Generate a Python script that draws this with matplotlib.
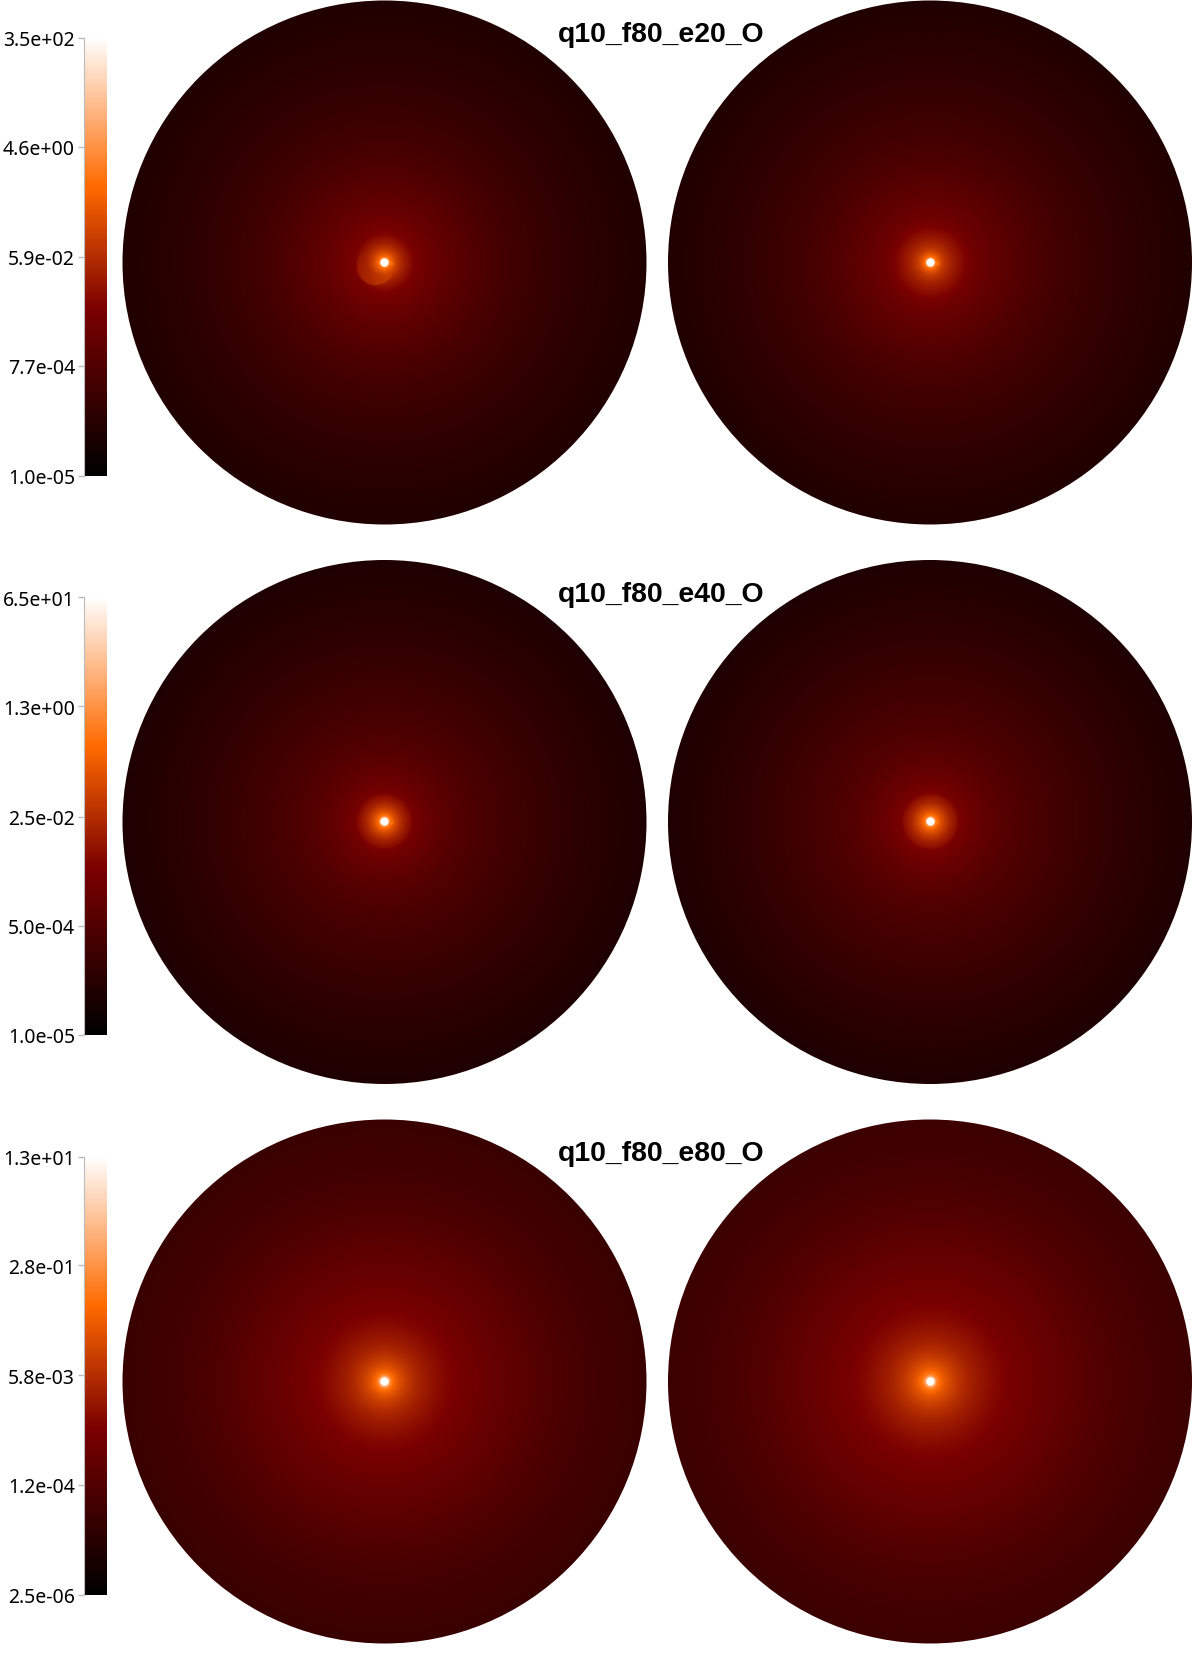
import numpy as np
import matplotlib
matplotlib.use('Agg')
import matplotlib.pyplot as plt
from matplotlib.colors import LinearSegmentedColormap, LogNorm
from matplotlib.patches import Circle

W, H = 1200, 1658
R = 262
PAD = 1.02

titles = ['q10_f80_e20_O', 'q10_f80_e40_O', 'q10_f80_e80_O']
tick_values = [[3.5e+02, 4.6e+00, 5.9e-02, 7.7e-04, 1.0e-05],
               [6.5e+01, 1.3e+00, 2.5e-02, 5.0e-04, 1.0e-05],
               [1.3e+01, 2.8e-01, 5.8e-03, 1.2e-04, 2.5e-06]]
tick_labels = [['3.5e+02', '4.6e+00', '5.9e-02', '7.7e-04', '1.0e-05'],
               ['6.5e+01', '1.3e+00', '2.5e-02', '5.0e-04', '1.0e-05'],
               ['1.3e+01', '2.8e-01', '5.8e-03', '1.2e-04', '2.5e-06']]

# radius in units of the disc radius, density
radius = [0.0, 0.014, 0.018, 0.02, 0.03, 0.05, 0.10, 0.11, 0.18, 0.31, 0.5, 0.76, 1.0]
density = [[3.5e+02, 3.5e+02, 5.0e+00, 1.4e+00, 4.6e-01, 1.0e-01, 1.2e-02, 8.5e-03, 3.2e-03, 1.1e-03, 3.2e-04, 1.1e-04, 6.0e-05],
           [6.5e+01, 6.5e+01, 1.5e+00, 7.0e-01, 2.0e-01, 5.0e-02, 6.0e-03, 3.5e-03, 1.4e-03, 5.2e-04, 2.2e-04, 8.5e-05, 4.6e-05],
           [1.3e+01, 1.3e+01, 9.0e-01, 5.0e-01, 9.4e-02, 3.0e-02, 7.0e-03, 5.5e-03, 2.0e-03, 6.5e-04, 2.4e-04, 7.0e-05, 4.0e-05]]
density_right = [[3.5e+02, 3.5e+02, 5.0e+00, 1.4e+00, 4.6e-01, 1.0e-01, 1.9e-02, 1.5e-02, 3.6e-03, 1.2e-03, 3.5e-04, 1.2e-04, 6.0e-05],
                 [6.5e+01, 6.5e+01, 1.5e+00, 7.0e-01, 2.2e-01, 6.0e-02, 7.0e-03, 4.0e-03, 1.6e-03, 5.8e-04, 2.4e-04, 9.0e-05, 4.6e-05],
                 [1.3e+01, 1.3e+01, 9.0e-01, 5.0e-01, 1.1e-01, 3.6e-02, 9.0e-03, 7.0e-03, 2.5e-03, 8.0e-04, 2.9e-04, 8.5e-05, 4.5e-05]]

# offset disc in the first row: its centre, size and density in disc radii
crescent_center = (-0.034, -0.015)
crescent_size = 0.071
crescent_peak = (0.011, -0.038)
crescent_dist = [0.0, 0.115]
crescent_density = [1.6e-01, 2.2e-02]
planet_x = [0.026, 0.027]
planet_alpha = [0.8, 0.8, 0.35]

cmap = LinearSegmentedColormap.from_list('hot_orange', [(0.0, '#000000'), (0.38, '#7a0000'),
                                                        (0.66, '#ff6a00'), (1.0, '#ffffff')], N=512)


def draw_disc(ax, dens, norm, crescent=False):
    x = np.linspace(-PAD, PAD, 800)
    xx, yy = np.meshgrid(x, x)
    rr = np.maximum(np.hypot(xx, yy), 1e-3)
    field = np.interp(np.log10(rr), np.log10(np.maximum(radius, 1e-3)), np.log10(dens))
    if crescent:
        inside = np.hypot(xx-crescent_center[0], yy-crescent_center[1]) < crescent_size
        dist = np.hypot(xx-crescent_peak[0], yy-crescent_peak[1])
        level = np.interp(dist, crescent_dist, np.log10(crescent_density))
        field = np.where(inside, np.maximum(field, level), field)
    im = ax.imshow(10**field, extent=(-PAD, PAD, -PAD, PAD), origin='lower', cmap=cmap, norm=norm,
                   interpolation='bilinear')
    im.set_clip_path(Circle((0, 0), 1, transform=ax.transData))
    ax.set_xlim(-PAD, PAD)
    ax.set_ylim(-PAD, PAD)
    ax.axis('off')


fig = plt.figure(figsize=(W/100, H/100), dpi=100)
for i in range(3):
    cy = 263.5 + i*559.5
    norm = LogNorm(vmin=tick_values[i][-1], vmax=tick_values[i][0])
    for j, (cx, dens) in enumerate([(384.5, density[i]), (930, density_right[i])]):
        ax = fig.add_axes([(cx-R*PAD)/W, 1-(cy+R*PAD)/H, 2*R*PAD/W, 2*R*PAD/H])
        draw_disc(ax, dens, norm, crescent=(i == 0 and j == 0))
        ax.plot([planet_x[j]], [0], 'o', ms=2.5, mew=0, color='#ff7a10', alpha=planet_alpha[i])
    cax = fig.add_axes([84/W, 1-(cy+213)/H, 23/W, 438/H])
    cb = fig.colorbar(plt.cm.ScalarMappable(norm=norm, cmap=cmap), cax=cax)
    cb.outline.set_visible(False)
    cax.yaxis.set_ticks_position('left')
    cax.minorticks_off()
    cb.set_ticks(tick_values[i])
    cb.set_ticklabels(tick_labels[i])
    cax.spines['left'].set_visible(True)
    cax.spines['left'].set_color('#bbbbbb')
    cax.tick_params(axis='y', length=4, width=1, color='#bbbbbb', pad=2.5, labelsize=14)
    for t in cax.get_yticklabels():
        t.set_family('Noto Sans')
        t.set_weight('medium')
    fig.text(661.5/W, 1-(42+i*559.5)/H, titles[i], family='Liberation Sans', weight='bold', fontsize=20.4,
             ha='center', va='baseline')

fig.savefig('out.png', dpi=100)
